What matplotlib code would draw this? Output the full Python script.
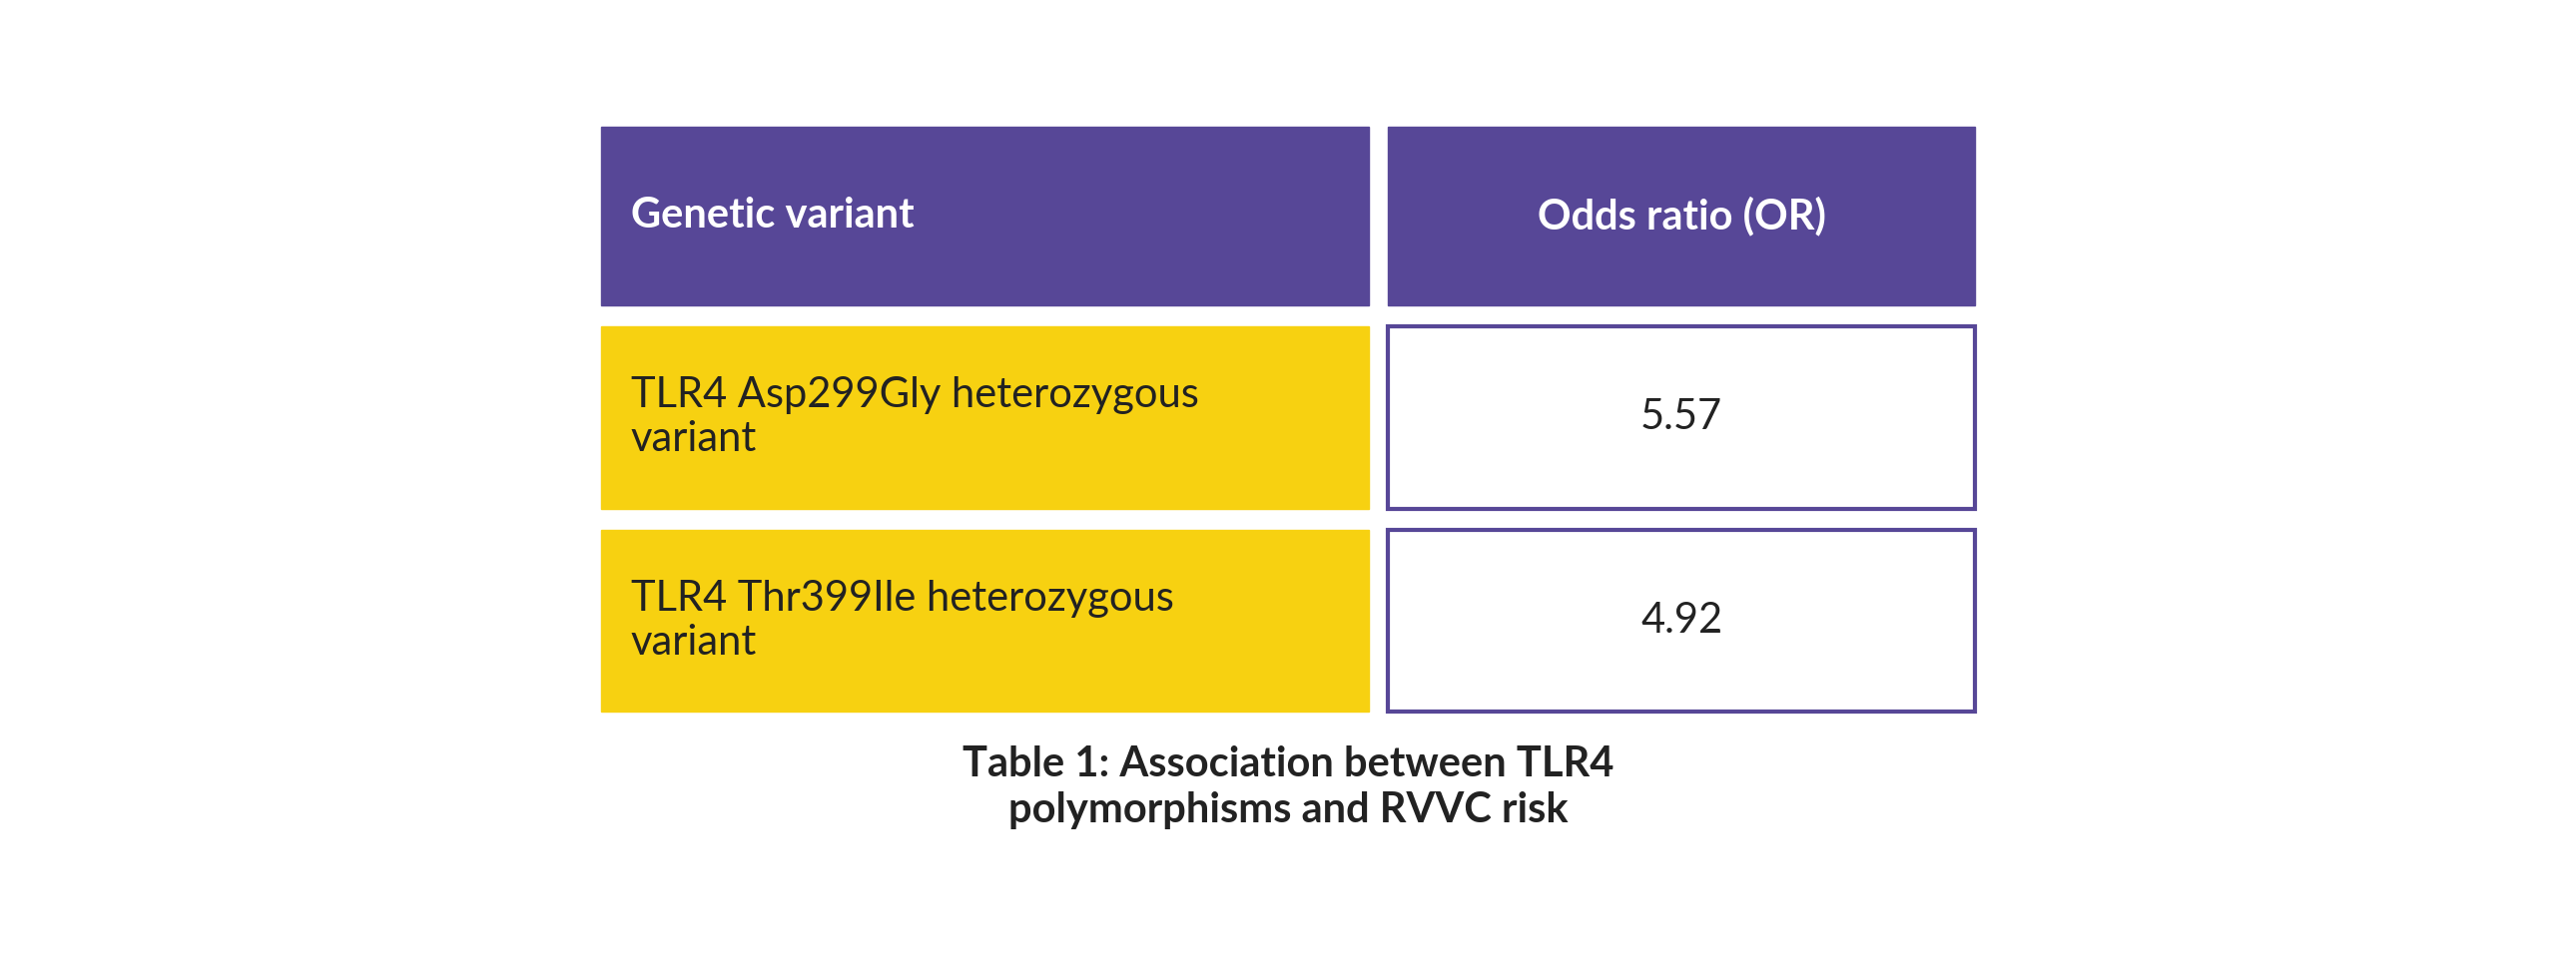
import matplotlib.pyplot as plt
from matplotlib.patches import Rectangle

# table content
headers = ['Genetic variant', 'Odds ratio (OR)']
variants = ['TLR4 Asp299Gly heterozygous\nvariant', 'TLR4 Thr399Ile heterozygous\nvariant']
odds = [5.57, 4.92]
caption = 'Table 1: Association between TLR4\npolymorphisms and RVVC risk'

purple = '#574797'
yellow = '#F7D111'

plt.rcParams['font.family'] = ['Lato', 'DejaVu Sans']

fig = plt.figure(figsize=(25.8, 9.73), dpi=100)
ax = fig.add_axes([0, 0, 1, 1])
ax.set_xlim(0, 1568)
ax.set_ylim(592, 0)
ax.axis('off')

# column / row geometry (in reference display coords)
x0, x1, x2, x3 = 366, 833, 845, 1202
rows = [(77, 186), (199, 310), (323, 434)]

top, bot = rows[0]
ax.add_patch(Rectangle((x0, top), x1 - x0, bot - top, color=purple))
ax.add_patch(Rectangle((x2, top), x3 - x2, bot - top, color=purple))
ax.text(x0 + 18, (top + bot) / 2, headers[0], color='white', fontsize=30,
        fontweight='bold', va='center', ha='left')
ax.text((x2 + x3) / 2, (top + bot) / 2, headers[1], color='white', fontsize=30,
        fontweight='bold', va='center', ha='center')

for (top, bot), name, val in zip(rows[1:], variants, odds):
    ax.add_patch(Rectangle((x0, top), x1 - x0, bot - top, color=yellow))
    ax.add_patch(Rectangle((x2, top), x3 - x2, bot - top, facecolor='white',
                           edgecolor=purple, linewidth=3))
    ax.text(x0 + 18, (top + bot) / 2, name, color='#222222', fontsize=30,
            va='center', ha='left', linespacing=1.2)
    ax.text((x2 + x3) / 2, (top + bot) / 2, f'{val:.2f}', color='#222222',
            fontsize=30, va='center', ha='center')

ax.text((x0 + x3) / 2, 480, caption, color='#222222', fontsize=30,
        fontweight='bold', va='center', ha='center', linespacing=1.25)

fig.savefig('out.png', dpi=100, facecolor='white')
